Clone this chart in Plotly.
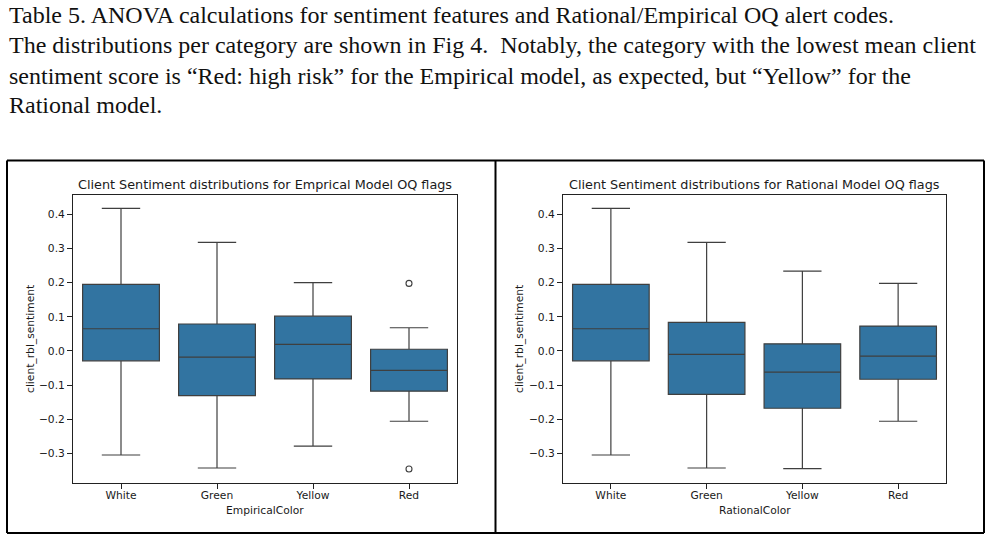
import plotly.graph_objects as go

W, H = 992, 541

categories = ["White", "Green", "Yellow", "Red"]

emp_q1 = [-0.029, -0.131, -0.082, -0.118]
emp_median = [0.065, -0.018, 0.019, -0.057]
emp_q3 = [0.195, 0.079, 0.102, 0.005]
emp_lower = [-0.305, -0.343, -0.279, -0.206]
emp_upper = [0.418, 0.318, 0.200, 0.068]
emp_outlier_cat = ["Red", "Red"]
emp_outlier_val = [0.198, -0.346]

rat_q1 = [-0.029, -0.127, -0.168, -0.083]
rat_median = [0.065, -0.010, -0.062, -0.015]
rat_q3 = [0.195, 0.084, 0.021, 0.073]
rat_lower = [-0.305, -0.343, -0.345, -0.206]
rat_upper = [0.418, 0.318, 0.234, 0.198]

caption_lines = [
    "Table 5. ANOVA calculations for sentiment features and Rational/Empirical OQ alert codes.",
    "The distributions per category are shown in Fig 4.\u00a0 Notably, the category with the lowest mean client",
    "sentiment score is \u201cRed: high risk\u201d for the Empirical model, as expected, but \u201cYellow\u201d for the",
    "Rational model.",
]

titles = ["Client Sentiment distributions for Emprical Model OQ flags",
          "Client Sentiment distributions for Rational Model OQ flags"]
xlabels = ["EmpiricalColor", "RationalColor"]
ylabel = "client_rbl_sentiment"

BOX_FILL = "#3274a1"
LINE = "#3f3f3f"
TXT = "#1a1a1a"
MPL_FONT = "DejaVu Sans"

def px_x(v):
    return v / W

def px_y(v):
    return 1 - v / H

fig = go.Figure()

pos = {c: i for i, c in enumerate(categories)}
xs = [pos[c] for c in categories]

panels = [
    (emp_q1, emp_median, emp_q3, emp_lower, emp_upper, "x", "y"),
    (rat_q1, rat_median, rat_q3, rat_lower, rat_upper, "x2", "y2"),
]
for q1, med, q3, lo, hi, xa, ya in panels:
    fig.add_trace(go.Box(
        x=xs, q1=q1, median=med, q3=q3, lowerfence=lo, upperfence=hi,
        width=0.8, whiskerwidth=0.5, boxpoints=False,
        fillcolor=BOX_FILL, line=dict(color=LINE, width=1.2),
        xaxis=xa, yaxis=ya, showlegend=False,
    ))

fig.add_trace(go.Scatter(
    x=[pos[c] for c in emp_outlier_cat], y=emp_outlier_val, mode="markers",
    marker=dict(symbol="circle-open", size=6, color=LINE, line=dict(width=1.1, color=LINE)),
    xaxis="x", yaxis="y", showlegend=False,
))

axes_px = [(73, 457), (563, 946)]
ytop, ybot = 195, 483
yrange = [-0.387, 0.457]

common_x = dict(
    tickmode="array", tickvals=xs, ticktext=categories, range=[-0.5, 3.5],
    showgrid=False, zeroline=False, showline=True, mirror=True,
    linecolor="#222222", linewidth=1, ticks="outside", ticklen=5, tickwidth=1,
    tickcolor="#222222", tickfont=dict(family=MPL_FONT, size=10.7, color=TXT),
    ticklabelstandoff=-3,
)
common_y = dict(
    range=yrange, tickmode="array",
    tickvals=[-0.3, -0.2, -0.1, 0.0, 0.1, 0.2, 0.3, 0.4],
    tickformat=".1f",
    showgrid=False, zeroline=False, showline=True, mirror=True,
    linecolor="#222222", linewidth=1, ticks="outside", ticklen=5, tickwidth=1,
    tickcolor="#222222", tickfont=dict(family=MPL_FONT, size=10.7, color=TXT),
)

layout = dict(
    width=W, height=H, margin=dict(l=0, r=0, t=0, b=0),
    paper_bgcolor="white", plot_bgcolor="white",
    xaxis=dict(domain=[px_x(axes_px[0][0]), px_x(axes_px[0][1])], anchor="y", **common_x),
    yaxis=dict(domain=[px_y(ybot), px_y(ytop)], anchor="x", **common_y),
    xaxis2=dict(domain=[px_x(axes_px[1][0]), px_x(axes_px[1][1])], anchor="y2", **common_x),
    yaxis2=dict(domain=[px_y(ybot), px_y(ytop)], anchor="x2", **common_y),
)
fig.update_layout(**layout)

annotations = []
# caption
cap_centers = [15, 45.5, 75.5, 105]
for line, cy in zip(caption_lines, cap_centers):
    annotations.append(dict(
        text=line, xref="paper", yref="paper", x=px_x(7), y=px_y(cy),
        xanchor="left", yanchor="middle", showarrow=False,
        font=dict(family="Liberation Serif", size=24, color="#111111"),
    ))

label_x = [30, 519]
for i, (x0, x1) in enumerate(axes_px):
    cx = (x0 + x1) / 2
    annotations.append(dict(
        text=titles[i], xref="paper", yref="paper", x=px_x(cx), y=px_y(184),
        xanchor="center", yanchor="middle", showarrow=False,
        font=dict(family=MPL_FONT, size=12.8, color=TXT),
    ))
    annotations.append(dict(
        text=xlabels[i], xref="paper", yref="paper", x=px_x(cx), y=px_y(510),
        xanchor="center", yanchor="middle", showarrow=False,
        font=dict(family=MPL_FONT, size=10.7, color=TXT),
    ))
    annotations.append(dict(
        text=ylabel, xref="paper", yref="paper", x=px_x(label_x[i]), y=px_y((ytop + ybot) / 2),
        xanchor="center", yanchor="middle", showarrow=False, textangle=-90,
        font=dict(family=MPL_FONT, size=10.7, color=TXT),
    ))

fig.update_layout(annotations=annotations)

# panel frames
frame = dict(type="line", xref="paper", yref="paper", line=dict(color="black", width=2))
L, R, T, B, M = 7, 984, 160.5, 533, 495.5
shapes = [
    dict(frame, x0=px_x(L), x1=px_x(R), y0=px_y(T), y1=px_y(T)),
    dict(frame, x0=px_x(L), x1=px_x(R), y0=px_y(B), y1=px_y(B)),
    dict(frame, x0=px_x(L), x1=px_x(L), y0=px_y(T), y1=px_y(B)),
    dict(frame, x0=px_x(R), x1=px_x(R), y0=px_y(T), y1=px_y(B)),
    dict(frame, x0=px_x(M), x1=px_x(M), y0=px_y(T), y1=px_y(B)),
]
fig.update_layout(shapes=shapes)

fig.write_html("out.html")
